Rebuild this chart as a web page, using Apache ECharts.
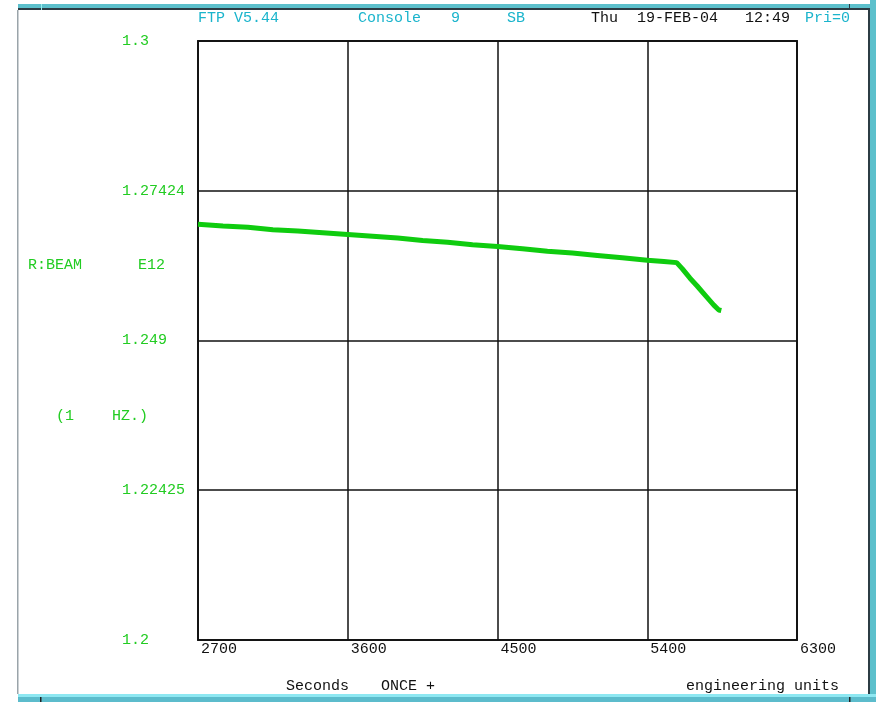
<!DOCTYPE html>
<html>
<head>
<meta charset="utf-8">
<script src="https://cdn.jsdelivr.net/npm/echarts@6/dist/echarts.min.js"></script>
<style>html,body{margin:0;padding:0;background:#fff;}#c{width:876px;height:702px;}</style>
</head>
<body>
<div id="c"></div>
<script>
var times = [2700, 2850, 3000, 3150, 3300, 3450, 3600, 3750, 3900, 4050, 4200, 4350, 4500, 4650, 4800, 4950, 5100, 5250, 5400, 5500, 5577, 5610, 5657, 5700, 5750, 5800, 5830, 5845];
var beam = [1.2694, 1.2691, 1.2689, 1.2685, 1.2683, 1.2680, 1.2677, 1.2674, 1.2671, 1.2667, 1.2664, 1.2660, 1.2657, 1.2653, 1.2649, 1.2646, 1.2642, 1.2638, 1.2634, 1.2632, 1.2630, 1.2620, 1.2604, 1.2591, 1.2575, 1.2559, 1.2551, 1.2550];
var xTicks = [2700, 3600, 4500, 5400, 6300];
var yTickLabels = ['1.2', '1.22425', '1.249', '1.27424', '1.3'];

var FONT = 'Liberation Mono';
var GREEN = '#22cc22';
var CYAN = '#1ab4cc';
function txt(x, y, s, color) {
  return {type: 'text', left: x, top: y - 7, style: {text: s, fill: color, font: '15px "' + FONT + '"'}};
}
var chart = echarts.init(document.getElementById('c'));
chart.setOption({
  animation: false,
  backgroundColor: '#fff',
  grid: {left: 198, top: 41, right: 79, bottom: 62, show: false},
  xAxis: {
    type: 'value', min: xTicks[0], max: xTicks[xTicks.length - 1], interval: 900,
    axisLine: {show: false}, axisTick: {show: false},
    splitLine: {show: true, lineStyle: {color: '#111', width: 1.5}},
    axisLabel: {align: 'left', margin: 2, padding: [0, 0, 0, 3], color: '#111', fontFamily: FONT, fontSize: 15,
      formatter: function (v) { return String(v); }}
  },
  yAxis: {
    type: 'value', min: 1.2, max: 1.3, interval: 0.025,
    axisLine: {show: false}, axisTick: {show: false},
    splitLine: {show: true, lineStyle: {color: '#111', width: 1.5}},
    axisLabel: {align: 'left', margin: 76, color: GREEN, fontFamily: FONT, fontSize: 15,
      formatter: function (v, i) { return yTickLabels[i]; }}
  },
  series: [{
    type: 'line', symbol: 'none', silent: true,
    data: times.map(function (t, i) { return [t, beam[i]]; }),
    lineStyle: {color: '#0fcc0f', width: 5}
  }],
  graphic: [
    {type: 'rect', shape: {x: 198, y: 41, width: 599, height: 599}, style: {fill: 'none', stroke: '#222', lineWidth: 2}, silent: true},
    {type: 'rect', shape: {x: 18, y: 4, width: 858, height: 4}, style: {fill: '#5cc0cc'}},
    {type: 'rect', shape: {x: 18, y: 8, width: 858, height: 2}, style: {fill: '#2c3c44'}},
    {type: 'rect', shape: {x: 41, y: 4, width: 1, height: 6}, style: {fill: '#9ee'}},
    {type: 'rect', shape: {x: 849, y: 4, width: 1, height: 6}, style: {fill: '#2c3c44'}},
    {type: 'rect', shape: {x: 17, y: 10, width: 1.5, height: 684}, style: {fill: '#9aa4aa'}},
    {type: 'rect', shape: {x: 870, y: 0, width: 6, height: 702}, style: {fill: '#5cc0cc'}},
    {type: 'rect', shape: {x: 868, y: 10, width: 2, height: 684}, style: {fill: '#2c3c44'}},
    {type: 'rect', shape: {x: 18, y: 694, width: 858, height: 3}, style: {fill: '#8ee8f2'}},
    {type: 'rect', shape: {x: 18, y: 697, width: 858, height: 5}, style: {fill: '#5cbccc'}},
    {type: 'rect', shape: {x: 40, y: 697, width: 1.5, height: 5}, style: {fill: '#222'}},
    {type: 'rect', shape: {x: 849, y: 697, width: 1.5, height: 5}, style: {fill: '#222'}},
    txt(198, 18, 'FTP V5.44', CYAN),
    txt(358, 18, 'Console', CYAN),
    txt(451, 18, '9', CYAN),
    txt(507, 18, 'SB', CYAN),
    txt(591, 18, 'Thu', '#111'),
    txt(637, 18, '19-FEB-04', '#111'),
    txt(745, 18, '12:49', '#111'),
    txt(805, 18, 'Pri=0', CYAN),
    txt(28, 265, 'R:BEAM', GREEN),
    txt(138, 265, 'E12', GREEN),
    txt(56, 416, '(1', GREEN),
    txt(112, 416, 'HZ.)', GREEN),
    txt(286, 686, 'Seconds', '#111'),
    txt(381, 686, 'ONCE +', '#111'),
    txt(686, 686, 'engineering units', '#111')
  ]
});
</script>
</body>
</html>
